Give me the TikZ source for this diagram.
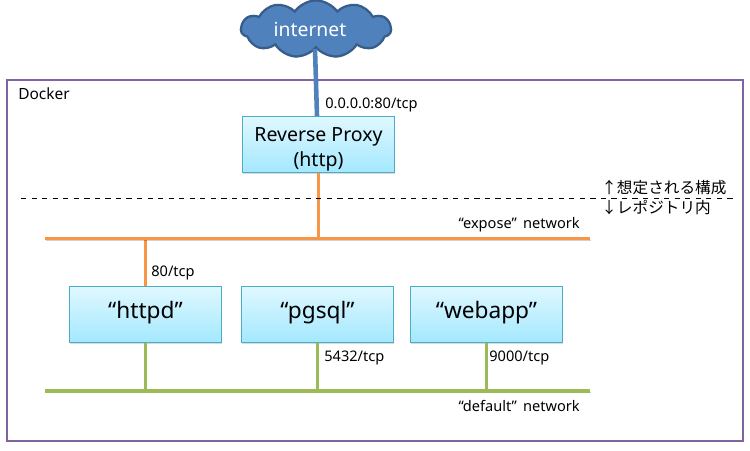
\documentclass[tikz,border=0pt]{standalone}
\usepackage{fontspec}
\setmainfont{Noto Sans}
\newfontfamily\jpfont{Noto Sans CJK JP}
\usetikzlibrary{shapes.symbols,shadows}
\definecolor{framepurple}{RGB}{128,100,162}
\definecolor{netorange}{RGB}{247,150,70}
\definecolor{netgreen}{RGB}{155,187,89}
\definecolor{cloudblue}{RGB}{79,129,189}
\definecolor{clouddark}{RGB}{56,93,138}
\definecolor{boxedge}{RGB}{75,172,198}
\definecolor{boxtop}{RGB}{224,248,255}
\definecolor{boxbottom}{RGB}{163,232,255}
\tikzset{
  svcbox/.style={draw=boxedge, semithick, top color=boxtop, bottom color=boxbottom, minimum width=152*0.02cm, minimum height=56*0.02cm, align=center, font=\fontsize{12.9}{16}\selectfont, inner sep=0pt, drop shadow={shadow xshift=0.4pt, shadow yshift=-0.8pt, opacity=0.3}},
  netlabel/.style={font=\fontsize{8.3}{10}\selectfont, inner sep=0pt},
  jplabel/.style={anchor=west, inner sep=0pt, font=\jpfont\fontsize{8.9}{11}\selectfont},
  netline/.style={line width=1.9pt, preaction={draw=black, opacity=0.18, transform canvas={xshift=0.4pt, yshift=-0.8pt}}}
}
\begin{document}
\begin{tikzpicture}[x=0.02cm, y=-0.02cm]
\useasboundingbox (0,0) rectangle (750,450);
\node[draw=framepurple, line width=1.1pt, minimum width=736*0.02cm, minimum height=361*0.02cm, inner sep=0pt] (docker) at (375,260.5) {};
\node[netlabel, anchor=west, font=\fontsize{8.8}{10}\selectfont] (dockerlabel) at (18,94) {Docker};
% cloud
\node[cloud, cloud puffs=11, cloud puff arc=110, aspect=2.9, draw=clouddark, line width=1.3pt, fill=cloudblue, text=white, minimum width=150*0.02cm, minimum height=54*0.02cm, inner sep=0pt, font=\fontsize{11}{13}\selectfont, drop shadow={shadow xshift=0.3pt, shadow yshift=-0.6pt, opacity=0.25}] (internet) at (316,29) {internet\kern0.24cm};
% boxes
\node[svcbox, font=\fontsize{11.1}{14.2}\selectfont] (proxy) at (318.5,144.5) {\rule{0pt}{13pt}Reverse Proxy\\(http)};
\node[svcbox] (httpd) at (145.5,314.5) {\rule[-5pt]{0pt}{9pt}“httpd”};
\node[svcbox] (pgsql) at (317.5,314.5) {\rule[-5pt]{0pt}{9pt}“pgsql”};
\node[svcbox] (webapp) at (486.5,314.5) {\rule[-5pt]{0pt}{9pt}“webapp”};
% networks
\coordinate (exposeL) at (45,238.5);
\coordinate (exposeR) at (590,238.5);
\coordinate (defaultL) at (45,391);
\coordinate (defaultR) at (590,391);
\draw[cloudblue, line width=2.6pt] ([xshift=-0.02cm]internet.south) -- ([xshift=-0.03cm]proxy.north);
\draw[netorange, line width=1.9pt] (proxy.south) -- (proxy.south |- exposeL);
\draw[netorange, line width=1.9pt] (httpd.north) -- (httpd.north |- exposeL);
\foreach \n in {httpd,pgsql,webapp}
\draw[netgreen, line width=1.9pt] (\n.south) -- (\n.south |- defaultL);
\draw[netorange, netline] (exposeL) -- (exposeR);
\draw[netgreen, netline] (defaultL) -- (defaultR);
% boundary
\coordinate (dashL) at (21,198);
\coordinate (dashR) at (735,198);
\draw[dashed, thin] (dashL) -- (dashR);
\node[jplabel] (assumed) at (601,187.5) {↑想定される構成};
\node[jplabel] (repo) at (601,207.5) {↓レポジトリ内};
% labels
\node[netlabel, anchor=west] (addrlabel) at (325,105) {0.0.0.0:80/tcp};
\node[netlabel, anchor=east] (exposelabel) at (580,225) {“expose”\, network};
\node[netlabel, anchor=west] (httpdport) at (151,273) {80/tcp};
\node[netlabel, anchor=west] (pgsqlport) at (324,358) {5432/tcp};
\node[netlabel, anchor=west] (webappport) at (489,358) {9000/tcp};
\node[netlabel, anchor=east] (defaultlabel) at (580,406) {“default”\, network};
\end{tikzpicture}
\end{document}
